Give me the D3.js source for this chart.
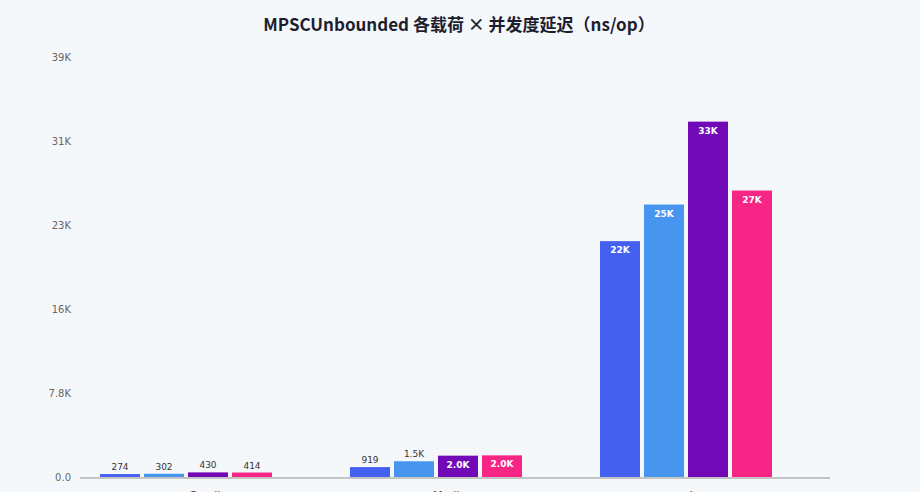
<!DOCTYPE html>
<html>
<head>
<meta charset="utf-8">
<script src="https://cdn.jsdelivr.net/npm/d3@7"></script>
<style>
  html, body { margin: 0; padding: 0; background: #f5f8fa; }
  svg { display: block; }
</style>
</head>
<body>
<svg id="chart"></svg>
<script>
const width = 920;
const height = 492;

// data
const loads = ["Small", "Medium", "Large"];
const series = ["1P", "2P", "4P", "8P"];
const valuesSmall = [274, 302, 430, 414];
const valuesMedium = [919, 1460, 1980, 2010];
const valuesLarge = [21900, 25300, 33000, 26600];
const yTicks = [0, 7800, 15600, 23400, 31200, 39000];
const colors = ["#4361ee", "#4895ef", "#7209b7", "#f72585"];

const valuesByLoad = [valuesSmall, valuesMedium, valuesLarge];
const rows = [];
loads.forEach((load, i) => {
    series.forEach((s, j) => rows.push({ load, s, value: valuesByLoad[i][j] }));
});

const margin = { top: 57, right: 90, bottom: 15, left: 80 };

const svg = d3.select("#chart")
    .attr("width", width)
    .attr("height", height);

svg.append("text")
    .attr("x", width / 2 - 1)
    .attr("y", 31)
    .attr("text-anchor", "middle")
    .attr("font-family", "'Noto Sans CJK SC', 'Noto Sans', sans-serif")
    .attr("font-size", "17px")
    .attr("font-weight", "bold")
    .attr("fill", "#1e1e2f")
    .text("MPSCUnbounded 各载荷 × 并发度延迟（ns/op）");

const x0 = d3.scaleBand()
    .domain(loads)
    .range([margin.left, width - margin.right]);

// bars sit toward the left side of each group band
const x1 = d3.scaleBand()
    .domain(series)
    .range([20, 192])
    .paddingInner(4 / 44);

const y = d3.scaleLinear()
    .domain([0, 39000])
    .range([height - margin.bottom, margin.top]);

const fmt = v => {
    if (v === 0) return "0.0";
    if (v < 1000) return String(v);
    const k = v / 1000;
    return (k < 10 ? k.toFixed(1) : Math.round(k)) + "K";
};

// y tick labels, no axis line
svg.append("g")
    .attr("transform", `translate(${margin.left},0)`)
    .call(d3.axisLeft(y).tickValues(yTicks).tickSize(0).tickPadding(9).tickFormat(fmt))
    .call(g => g.select(".domain").remove())
    .selectAll("text")
    .attr("font-family", "'DejaVu Sans', Verdana, sans-serif")
    .attr("font-size", "10px")
    .attr("fill", "#666");

const bars = svg.append("g");

bars.selectAll("rect")
    .data(rows)
    .join("rect")
    .attr("x", d => x0(d.load) + x1(d.s))
    .attr("y", d => y(d.value))
    .attr("width", x1.bandwidth())
    .attr("height", d => y(0) - y(d.value))
    .attr("fill", d => colors[series.indexOf(d.s)]);

// value labels: inside (white bold) for tall bars, above otherwise
bars.selectAll("text")
    .data(rows)
    .join("text")
    .attr("x", d => x0(d.load) + x1(d.s) + x1.bandwidth() / 2)
    .attr("y", d => (y(0) - y(d.value) > 18) ? y(d.value) + 12 : y(d.value) - 4)
    .attr("text-anchor", "middle")
    .attr("font-family", "'DejaVu Sans', Verdana, sans-serif")
    .attr("font-size", "9px")
    .attr("font-weight", d => (y(0) - y(d.value) > 18) ? "bold" : "normal")
    .attr("fill", d => (y(0) - y(d.value) > 18) ? "#fff" : "#333")
    .text(d => fmt(d.value));

// baseline
svg.append("line")
    .attr("x1", margin.left)
    .attr("x2", width - margin.right)
    .attr("y1", y(0) + 1)
    .attr("y2", y(0) + 1)
    .attr("stroke", "#c4c4c4")
    .attr("stroke-width", 2);

// category labels (cut by the bottom edge, as in the reference)
svg.append("g")
    .selectAll("text")
    .data(loads)
    .join("text")
    .attr("x", d => x0(d) + x0.bandwidth() / 2)
    .attr("y", y(0) + 22)
    .attr("text-anchor", "middle")
    .attr("font-family", "'DejaVu Sans', Verdana, sans-serif")
    .attr("font-size", "11px")
    .attr("fill", "#444")
    .text(d => d);
</script>
</body>
</html>
